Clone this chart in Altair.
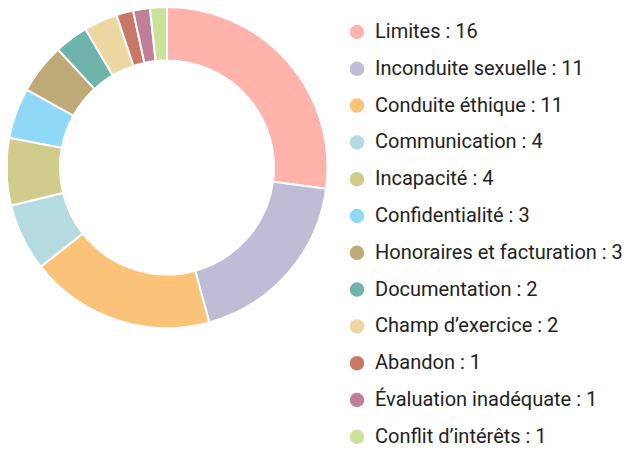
import altair as alt
import pandas as pd

categories = ["Limites", "Inconduite sexuelle", "Conduite éthique", "Communication",
              "Incapacité", "Confidentialité", "Honoraires et facturation",
              "Documentation", "Champ d’exercice", "Abandon",
              "Évaluation inadéquate", "Conflit d’intérêts"]
values = [16, 11, 11, 4, 4, 3, 3, 2, 2, 1, 1, 1]
colors = ["#ffb3aa", "#bfbcd5", "#fbc379", "#b5dbe1", "#cfcc8c", "#8fd8f7",
          "#bdaa76", "#6fb3ab", "#ecd6a2", "#c97868", "#c17e98", "#cce29b"]

labels = [f"{c} : {v}" for c, v in zip(categories, values)]
df = pd.DataFrame({"label": labels, "value": values, "idx": list(range(len(values)))})

chart = alt.Chart(df).mark_arc(
    outerRadius=160.5, innerRadius=107, stroke="white", strokeWidth=2,
    x=159, y=159.5
).encode(
    theta=alt.Theta("value:Q", stack=True),
    order=alt.Order("idx:Q"),
    color=alt.Color("label:N",
                    scale=alt.Scale(domain=labels, range=colors),
                    sort=labels,
                    legend=alt.Legend(title=None, orient="none", legendX=339, legendY=14,
                                      padding=0,
                                      symbolType="circle", symbolSize=210,
                                      symbolStrokeWidth=0,
                                      labelFont="Roboto", labelFontSize=20,
                                      labelColor="#222", labelOffset=8,
                                      rowPadding=16.8, labelLimit=400)),
).properties(width=617, height=441, padding=0,
             autosize=alt.AutoSizeParams(type="none")).configure_view(stroke=None)

chart.save("out.html", embed_options={"renderer": "svg", "actions": False})
